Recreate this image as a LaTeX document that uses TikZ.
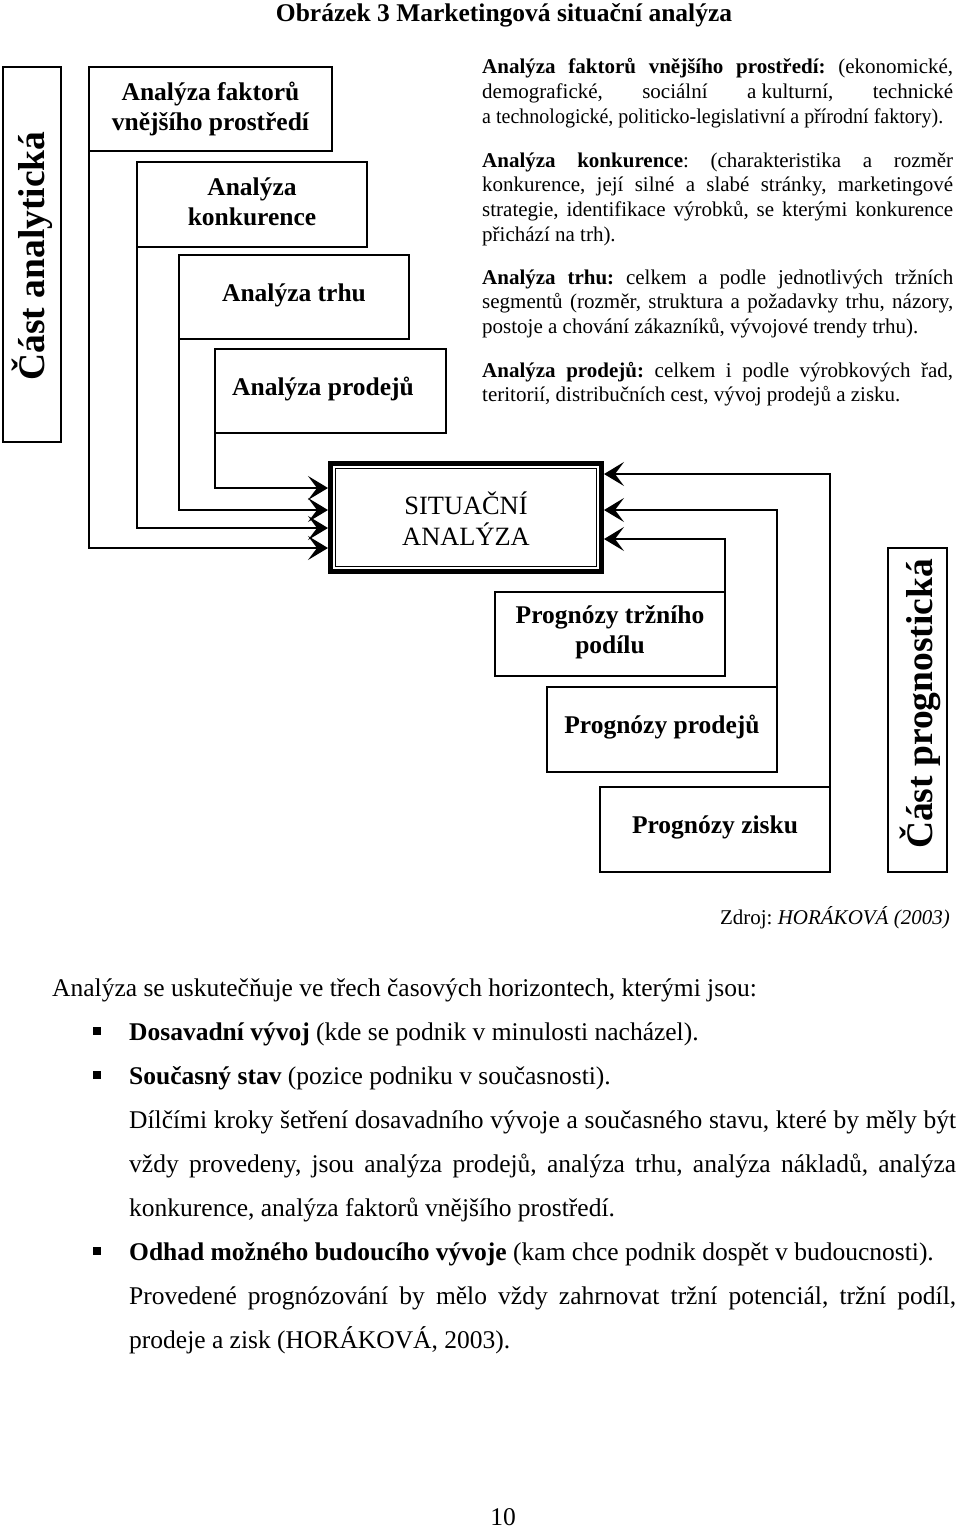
\documentclass[tikz,border=0pt]{standalone}
\usepackage{fontspec}
\setmainfont{Liberation Serif}
\usepackage{graphicx}
\usetikzlibrary{arrows.meta}
\hbadness=10000
\hfuzz=20pt
\frenchspacing
\newcommand\jline[1]{\hbox to\linewidth{#1}}
\begin{document}
\begin{tikzpicture}[x=1pt,y=-1pt,
  box/.style={draw, line width=1.7pt, inner sep=0pt, outer sep=0pt},
  lab/.style={inner sep=0pt, anchor=base, font=\fontsize{25.5}{30}\selectfont\bfseries},
  stxt/.style={inner sep=0pt, anchor=base, font=\fontsize{26.4}{30}\selectfont},
  arr/.style={line width=1.7pt, arrows={-Stealth[length=20pt,width=24pt,inset=9pt]}},
  vlab/.style={inner sep=0pt, anchor=base, rotate=90, font=\fontsize{37.5}{40}\selectfont\bfseries},
  side/.style={inner sep=0pt, anchor=base west, font=\fontsize{21}{24.8}\selectfont},
  body/.style={inner sep=0pt, anchor=base west, font=\fontsize{25.5}{44}\selectfont},
  bul/.style={fill, inner sep=0pt, minimum width=8pt, minimum height=8.5pt}
]
\fill[white] (0,0) rectangle (960,1528);
\useasboundingbox (0,0) rectangle (960,1528);

% title
\node[inner sep=0pt, anchor=base, font=\fontsize{25.5}{30}\selectfont\bfseries] (title) at (504,22) {Obrázek 3 Marketingová situační analýza};

% left part
\node[box, minimum width=58pt, minimum height=375pt] (la) at (32,254.5) {};
\node[vlab] (lat) at (44,256) {Část analytická};

\node[box, minimum width=243pt, minimum height=84pt] (b1) at (210.5,109) {};
\node[lab] (t1) at (210.5,100) {\parbox[t]{240pt}{\centering Analýza faktorů\\vnějšího prostředí}};
\node[box, minimum width=230pt, minimum height=85pt] (b2) at (252,204.5) {};
\node[lab] (t2) at (252,195) {\parbox[t]{228pt}{\centering Analýza\\konkurence}};
\node[box, minimum width=230pt, minimum height=84pt] (b3) at (294,297) {};
\node[lab] (t3) at (294,301) {Analýza trhu};
\node[box, minimum width=231pt, minimum height=84pt] (b4) at (330.5,391) {};
\node[lab] (t4) at (323,395) {Analýza prodejů};

% descriptions
\node[side] (d1) at (482,73.5) {\parbox[t]{471pt}{%
\jline{\textbf{Analýza faktorů vnějšího prostředí:} (ekonomické,}%
\jline{demografické, sociální \mbox{a kulturní,} technické}%
\hbox{\resizebox{461pt}{\height}{a technologické, politicko-legislativní a přírodní faktory).}}}};
\node[side] (d2) at (482,167) {\parbox[t]{471pt}{%
\jline{\textbf{Analýza konkurence}: (charakteristika a rozměr}%
\jline{konkurence, její silné a slabé stránky, marketingové}%
\jline{strategie, identifikace výrobků, se kterými konkurence}%
\hbox{přichází na trh).}}};
\node[side] (d3) at (482,284) {\parbox[t]{471pt}{%
\jline{\textbf{Analýza trhu:} celkem a podle jednotlivých tržních}%
\jline{segmentů (rozměr, struktura a požadavky trhu, názory,}%
\hbox{postoje a chování zákazníků, vývojové trendy trhu).}}};
\node[side] (d4) at (482,377) {\parbox[t]{471pt}{%
\jline{\textbf{Analýza prodejů:} celkem i podle výrobkových řad,}%
\hbox{teritorií, distribučních cest, vývoj prodejů a zisku.}}};

% central box
\node[minimum width=276pt, minimum height=113pt, inner sep=0pt, outer sep=0pt] (sit) at (466,517.5) {};
\draw[line width=5pt] ([shift={(2.5,2.5)}]sit.north west) rectangle ([shift={(-2.5,-2.5)}]sit.south east);
\draw[line width=1.2pt] ([shift={(7.6,7.6)}]sit.north west) rectangle ([shift={(-7.6,-7.6)}]sit.south east);
\node[stxt] (s1) at (466,514) {SITUAČNÍ};
\node[stxt] (s2) at (466,545) {ANALÝZA};

% right part
\node[box, minimum width=230pt, minimum height=84pt] (p1) at (610,634) {};
\node[lab] (q1) at (610,623) {\parbox[t]{228pt}{\centering Prognózy tržního\\podílu}};
\node[box, minimum width=230pt, minimum height=85pt] (p2) at (662,729.5) {};
\node[lab] (q2) at (662,733) {Prognózy prodejů};
\node[box, minimum width=230pt, minimum height=85pt] (p3) at (715,829.5) {};
\node[lab] (q3) at (715,833) {Prognózy zisku};
\node[box, minimum width=59pt, minimum height=324pt] (rb) at (917.5,710) {};
\node[vlab] (rbt) at (932,704) {Část prognostická};

% connectors
\draw[arr] (b1.south west) |- (sit.west |- 0,548);
\draw[arr] (b2.south west) |- (sit.west |- 0,528);
\draw[arr] (b3.south west) |- (sit.west |- 0,510);
\draw[arr] (b4.south west) |- (sit.west |- 0,488);
\draw[arr] (p1.north east) |- (sit.east |- 0,539);
\draw[arr] (p2.north east) |- (sit.east |- 0,510);
\draw[arr] (p3.north east) |- (sit.east |- 0,474);

% source
\node[inner sep=0pt, anchor=base east, font=\fontsize{21}{24}\selectfont] (src) at (950,924) {Zdroj: \textit{HORÁKOVÁ (2003)}};

% body text
\node[body] (a0) at (52,996) {Analýza se uskutečňuje ve třech časových horizontech, kterými jsou:};
\node[body] (a1) at (129,1040) {\parbox[t]{827pt}{%
\hbox{\textbf{Dosavadní vývoj} (kde se podnik v minulosti nacházel).}%
\hbox{\textbf{Současný stav} (pozice podniku v současnosti).}%
\jline{Dílčími kroky šetření dosavadního vývoje a současného stavu, které by měly být}%
\jline{vždy provedeny, jsou analýza prodejů, analýza trhu, analýza nákladů, analýza}%
\hbox{konkurence, analýza faktorů vnějšího prostředí.}%
\hbox{\textbf{Odhad možného budoucího vývoje} (kam chce podnik dospět v budoucnosti).}%
\jline{Provedené prognózování by mělo vždy zahrnovat tržní potenciál, tržní podíl,}%
\hbox{prodeje a zisk (HORÁKOVÁ, 2003).}}};
\node[bul] (u1) at (96.6,1031) {};
\node[bul] (u2) at (96.6,1075) {};
\node[bul] (u3) at (96.6,1251) {};

% page number
\node[inner sep=0pt, anchor=base, font=\fontsize{25.5}{30}\selectfont] (pg) at (503,1525) {10};
\end{tikzpicture}
\end{document}
